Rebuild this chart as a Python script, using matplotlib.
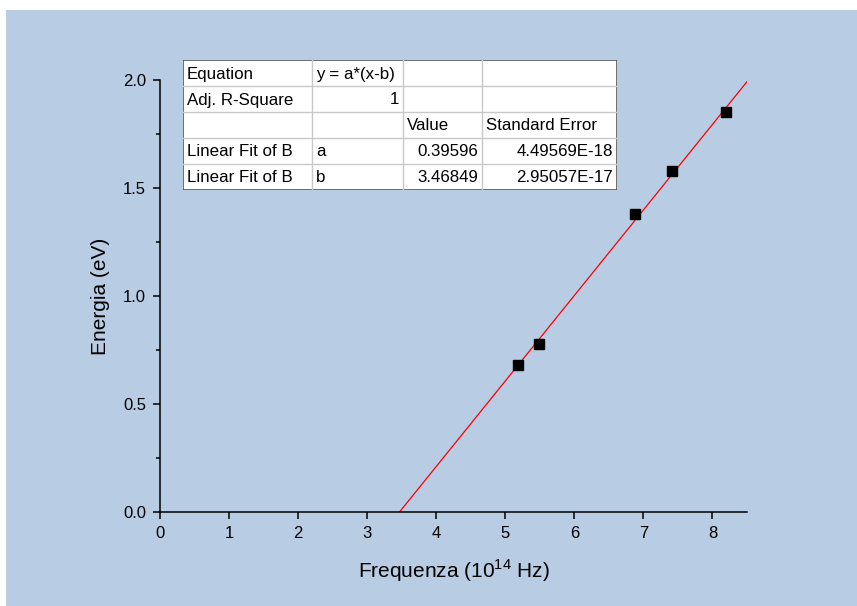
import matplotlib.pyplot as plt
from matplotlib.patches import Rectangle
from matplotlib.ticker import MultipleLocator

plt.rcParams['font.family'] = ['Liberation Sans', 'DejaVu Sans']

# measured points (frequency in 1e14 Hz, energy in eV)
freq = [5.19, 5.49, 6.88, 7.41, 8.20]
energy = [0.68, 0.78, 1.38, 1.58, 1.85]

# fit result y = a*(x-b)
fit_a = 0.39596
fit_b = 3.46849
fit_x = [fit_b, 8.5]

table_rows = [
    ['Equation', 'y = a*(x-b)', '', ''],
    ['Adj. R-Square', '1', '', ''],
    ['', '', 'Value', 'Standard Error'],
    ['Linear Fit of B', 'a', '0.39596', '4.49569E-18'],
    ['Linear Fit of B', 'b', '3.46849', '2.95057E-17'],
]
right_cells = {(1, 1), (3, 2), (3, 3), (4, 2), (4, 3)}

BG = '#b8cce4'
W, H = 857, 606

fig = plt.figure(figsize=(W / 100, H / 100), dpi=100, facecolor='white')
fig.patches.append(Rectangle((6 / W, 0), (W - 6) / W, (H - 10) / H,
                             transform=fig.transFigure, facecolor=BG,
                             edgecolor='none', zorder=-10))

ax = fig.add_axes([160 / W, (H - 512) / H, 587 / W, 432 / H])
ax.patch.set_alpha(0)

fit_y = [fit_a * (x - fit_b) for x in fit_x]
ax.plot(fit_x, fit_y, color='red', lw=0.9, zorder=2)
ax.plot(freq, energy, 's', color='black', ms=7.5, zorder=3)

ax.set_xlim(0, 8.5)
ax.set_ylim(0, 2.0)
ax.xaxis.set_major_locator(MultipleLocator(1))
ax.yaxis.set_major_locator(MultipleLocator(0.5))
ax.yaxis.set_minor_locator(MultipleLocator(0.25))
ax.yaxis.set_major_formatter(lambda v, p: f'{v:.1f}')
for s in ['top', 'right']:
    ax.spines[s].set_visible(False)
for s in ['left', 'bottom']:
    ax.spines[s].set_linewidth(1.1)
ax.tick_params(which='major', length=5, width=1.1, labelsize=12, pad=5)
ax.tick_params(which='minor', length=3, width=1.1)
ax.set_xlabel('Frequenza (10$^{\\mathregular{14}}$ Hz)', fontsize=15, labelpad=12)
ax.set_ylabel('Energia (eV)', fontsize=15, labelpad=9)

# fit results table
col_edges = [183, 312, 403, 482, 617]
top, row_h = 60, 26
tab = fig.add_axes([col_edges[0] / W, (H - top - row_h * 5) / H,
                    (col_edges[-1] - col_edges[0]) / W, row_h * 5 / H])
tab.set_xlim(col_edges[0], col_edges[-1])
tab.set_ylim(top + row_h * 5, top)
tab.axis('off')
tab.add_patch(Rectangle((col_edges[0], top), col_edges[-1] - col_edges[0], row_h * 5,
                        facecolor='white', edgecolor='none'))
for xe in col_edges[1:-1]:
    tab.plot([xe, xe], [top, top + row_h * 5], color='#c8c8c8', lw=1)
for r in range(1, 5):
    tab.plot([col_edges[0], col_edges[-1]], [top + r * row_h] * 2, color='#c8c8c8', lw=1)
tab.add_patch(Rectangle((col_edges[0], top), col_edges[-1] - col_edges[0], row_h * 5,
                        facecolor='none', edgecolor='#555555', lw=1.2))
for r, row in enumerate(table_rows):
    yc = top + r * row_h + row_h / 2 + 1
    for c, txt in enumerate(row):
        if not txt:
            continue
        if (r, c) in right_cells:
            tab.text(col_edges[c + 1] - 4, yc, txt, ha='right', va='center', fontsize=12.2)
        else:
            tab.text(col_edges[c] + 4, yc, txt, ha='left', va='center', fontsize=12.2)

fig.savefig('out.png', dpi=100, facecolor='white')
